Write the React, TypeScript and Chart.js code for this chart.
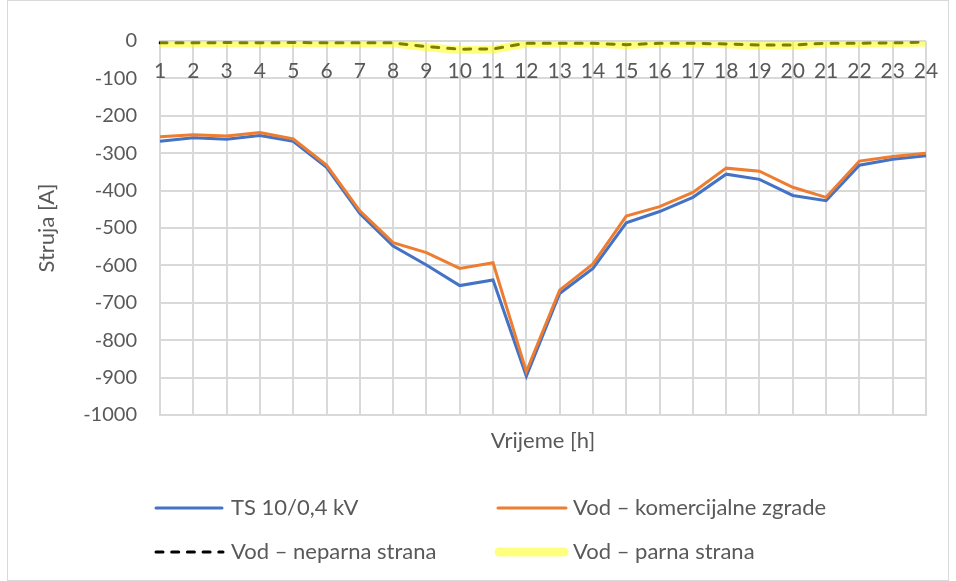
import React, { useEffect, useRef } from "react";
import { Chart, registerables } from "chart.js";

Chart.register(...registerables);

const hours = ["1", "2", "3", "4", "5", "6", "7", "8", "9", "10", "11", "12", "13", "14", "15", "16", "17", "18", "19", "20", "21", "22", "23", "24"];

const tsValues = [-268, -259, -263, -253, -268, -338, -461, -548, -599, -654, -639, -896, -675, -608, -486, -456, -418, -356, -370, -413, -427, -332, -316, -307];
const komercijalneValues = [-256, -251, -254, -245, -262, -332, -454, -539, -566, -608, -593, -884, -666, -596, -468, -443, -405, -340, -348, -391, -418, -321, -309, -300];
const neparnaValues = [-5, -5, -4, -5, -4, -5, -5, -5, -15, -22, -21, -6, -6, -6, -10, -6, -6, -8, -11, -11, -6, -6, -5, -3];
const parnaValues = [-6, -6, -5, -6, -5, -6, -6, -6, -17, -24, -23, -7, -7, -7, -11, -7, -7, -9, -12, -12, -7, -7, -6, -4];

const seriesNames = ["TS 10/0,4 kV", "Vod – komercijalne zgrade", "Vod – neparna strana", "Vod – parna strana"];

const yMin = -1000;
const yMax = 0;
const yStep = 100;

const FONT = "Lato, 'Open Sans', sans-serif";
const TEXT_COLOR = "#595959";
const GRID_COLOR = "#d9d9d9";

const xLabelsPlugin = {
  id: "xLabelsAtZero",
  afterDatasetsDraw(chart: any) {
    const { ctx, scales } = chart;
    const x = scales.x;
    const y = scales.y;
    const yPix = y.getPixelForValue(0) + 30;
    ctx.save();
    ctx.font = `21px ${FONT}`;
    ctx.fillStyle = TEXT_COLOR;
    ctx.textAlign = "center";
    ctx.textBaseline = "middle";
    hours.forEach((h, i) => {
      ctx.fillText(h, x.getPixelForValue(i), yPix);
    });
    ctx.restore();
  },
};

export default function App() {
  const canvasRef = useRef<HTMLCanvasElement | null>(null);

  useEffect(() => {
    if (!canvasRef.current) return;
    const chart = new Chart(canvasRef.current, {
      type: "line",
      data: {
        labels: hours,
        datasets: [
          {
            label: seriesNames[0],
            data: tsValues,
            borderColor: "#4472C4",
            borderWidth: 3,
            pointRadius: 0,
            tension: 0,
            order: 4,
          },
          {
            label: seriesNames[1],
            data: komercijalneValues,
            borderColor: "#ED7D31",
            borderWidth: 3,
            pointRadius: 0,
            tension: 0,
            order: 3,
          },
          {
            label: seriesNames[2],
            data: neparnaValues,
            borderColor: "#000000",
            borderWidth: 3,
            borderDash: [7, 9],
            borderCapStyle: "round",
            pointRadius: 0,
            tension: 0,
            order: 2,
          },
          {
            label: seriesNames[3],
            data: parnaValues,
            borderColor: "rgba(255,255,0,0.5)",
            borderWidth: 8,
            pointRadius: 0,
            tension: 0,
            order: 1,
          },
        ],
      },
      options: {
        animation: false,
        responsive: false,
        events: [],
        layout: { padding: { top: 41, right: 30, bottom: 126, left: 0 } },
        plugins: {
          legend: { display: false },
          tooltip: { enabled: false },
        },
        scales: {
          x: {
            type: "category",
            offset: false,
            grid: { color: GRID_COLOR, lineWidth: 2, drawTicks: false },
            border: { color: GRID_COLOR, width: 2 },
            ticks: { display: false },
            title: {
              display: true,
              text: "Vrijeme [h]",
              color: TEXT_COLOR,
              font: { family: FONT, size: 22 },
              padding: { top: 0, bottom: 1 },
            },
            afterFit: (s: any) => {
              s.height = 40;
            },
          },
          y: {
            min: yMin,
            max: yMax,
            grid: { color: GRID_COLOR, lineWidth: 2, drawTicks: false },
            border: { color: GRID_COLOR, width: 2 },
            ticks: {
              stepSize: yStep,
              color: TEXT_COLOR,
              font: { family: FONT, size: 20 },
              padding: 23,
              callback: (v: any) => String(v),
            },
            title: {
              display: true,
              text: "Struja [A]",
              color: TEXT_COLOR,
              font: { family: FONT, size: 22 },
              padding: { top: 34, bottom: 0 },
            },
            afterFit: (s: any) => {
              s.width = 160;
            },
          },
        },
      },
      plugins: [xLabelsPlugin],
    } as any);
    return () => chart.destroy();
  }, []);

  const legendText: React.CSSProperties = {
    position: "absolute",
    fontFamily: FONT,
    fontSize: 22,
    color: TEXT_COLOR,
    lineHeight: "26px",
    whiteSpace: "nowrap",
  };

  return (
    <div style={{ position: "fixed", left: 0, top: 0, width: 956, height: 581, background: "#fff" }}>
      <canvas ref={canvasRef} width={956} height={581} style={{ position: "absolute", left: 0, top: 0 }} />
      <svg width={956} height={581} style={{ position: "absolute", left: 0, top: 0, pointerEvents: "none" }}>
        <line x1={156} y1={508} x2={222} y2={508} stroke="#4472C4" strokeWidth={3} strokeLinecap="round" />
        <line x1={498} y1={508} x2={566} y2={508} stroke="#ED7D31" strokeWidth={3} strokeLinecap="round" />
        <line x1={156} y1={552} x2={223} y2={552} stroke="#000" strokeWidth={3} strokeLinecap="round" strokeDasharray="7 8.7" />
        <line x1={499} y1={552} x2={564} y2={552} stroke="rgba(255,255,0,0.5)" strokeWidth={9} strokeLinecap="round" />
      </svg>
      <div style={{ ...legendText, left: 231, top: 494 }}>{seriesNames[0]}</div>
      <div style={{ ...legendText, left: 573, top: 494 }}>{seriesNames[1]}</div>
      <div style={{ ...legendText, left: 231, top: 538 }}>{seriesNames[2]}</div>
      <div style={{ ...legendText, left: 573, top: 538 }}>{seriesNames[3]}</div>
      <div style={{ position: "absolute", left: 7, top: 0, width: 942, height: 581, boxSizing: "border-box", border: "1px solid #d9d9d9", pointerEvents: "none" }} />
    </div>
  );
}
